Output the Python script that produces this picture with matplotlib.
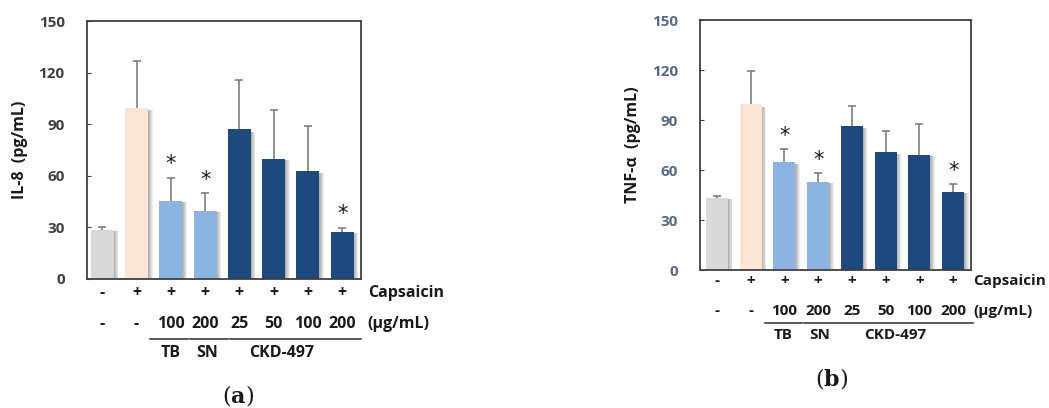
import matplotlib
matplotlib.use("Agg")
import matplotlib.pyplot as plt
from matplotlib.transforms import blended_transform_factory
from matplotlib.lines import Line2D

# ---- data ----
capsaicin = ["-", "+", "+", "+", "+", "+", "+", "+"]
doses = ["-", "-", "100", "200", "25", "50", "100", "200"]
groups = ["TB", "SN", "CKD-497"]
il8_mean = [28.5, 99.5, 45.5, 39.5, 87.0, 70.0, 62.5, 27.3]
il8_err = [1.8, 27.5, 13.5, 10.5, 28.8, 28.3, 26.7, 2.4]
il8_sig = [False, False, True, True, False, False, False, True]
tnf_mean = [43.0, 99.5, 64.6, 53.0, 86.6, 70.6, 69.2, 47.0]
tnf_err = [1.6, 20.0, 8.0, 5.2, 11.8, 12.6, 18.6, 4.4]
tnf_sig = [False, False, True, True, False, False, False, True]
yticks = [0, 30, 60, 90, 120, 150]

bar_colors = ["#d9d9d9", "#fbe5d6", "#8db3e2", "#8db3e2",
              "#1f497d", "#1f497d", "#1f497d", "#1f497d"]

plt.rcParams['font.family'] = ['Open Sans', 'DejaVu Sans']
plt.rcParams['mathtext.fontset'] = 'dejavuserif'

fig = plt.figure(figsize=(10.49, 4.08), dpi=100)

def panel(rect, means, errs, sig, ylabel, xlim, width, tickcol, rows, letter, letter_x,
          lines, grp_x, FS, lab_off):
    ax = fig.add_axes(rect)
    x = list(range(len(means)))
    # soft shadows at the right side of the bars
    for k in range(6):
        ax.bar([xi + width / 2 + 0.01 + k * 0.022 for xi in x], [m * 0.985 for m in means],
               width=0.024, color="#707070", alpha=0.55 - k * 0.085, align="center",
               linewidth=0, zorder=1)
    ax.bar(x, means, width=width, color=bar_colors, zorder=2, linewidth=0)
    tops = [m + e for m, e in zip(means, errs)]
    ax.vlines(x, means, tops, color="#7f7f7f", lw=1.2, zorder=3)
    ax.hlines(tops, [xi - 0.12 for xi in x], [xi + 0.12 for xi in x], color="#7f7f7f",
              lw=1.2, zorder=3)
    for xi, t, s in zip(x, tops, sig):
        if s:
            ax.text(xi, t + 2.0, "*", ha="center", va="bottom", fontsize=15,
                    color="#1a1a1a", family="DejaVu Sans")
    ax.set_xlim(*xlim)
    ax.set_ylim(0, 150)
    ax.set_yticks(yticks)
    ax.set_xticks([])
    ax.tick_params(axis="y", direction="in", length=3, color="#404040", labelsize=11,
                   labelcolor=tickcol, pad=16)
    for lab in ax.get_yticklabels():
        lab.set_fontweight("bold")
    for sp in ax.spines.values():
        sp.set_color("#404040")
        sp.set_linewidth(1.3)
    ax.set_ylabel(ylabel, fontsize=11.5, fontweight="bold", color="#1a1a1a", labelpad=8)
    tr = blended_transform_factory(ax.transData, ax.transAxes)
    y_cap, y_dose, y_line, y_grp, y_letter = rows
    for xi, c, d in zip(x, capsaicin, doses):
        ax.text(xi, y_cap, c, transform=tr, ha="center", va="center", fontsize=FS,
                fontweight="bold", color="#1a1a1a")
        ax.text(xi, y_dose, d, transform=tr, ha="center", va="center", fontsize=FS,
                fontweight="bold", color="#1a1a1a")
    ax.text(xlim[1] + lab_off, y_cap, "Capsaicin", transform=tr, ha="left", va="center",
            fontsize=FS, fontweight="bold", color="#1a1a1a")
    ax.text(xlim[1] + lab_off, y_dose, "(μg/mL)", transform=tr, ha="left", va="center",
            fontsize=FS, fontweight="bold", color="#1a1a1a")
    for (x0, x1), g, gx in zip(lines, groups, grp_x):
        ax.add_line(Line2D([x0, x1], [y_line, y_line], transform=tr, color="#404040",
                           lw=1.2, clip_on=False))
        ax.text(gx, y_grp, g, transform=tr, ha="center", va="center", fontsize=FS,
                fontweight="bold", color="#1a1a1a")
    ax.text(letter_x, y_letter, "($\\mathbf{" + letter + "}$)", transform=tr,
            ha="center", va="center", fontsize=16, family="DejaVu Serif",
            color="#1a1a1a")
    return ax

panel([0.0829, 0.3162, 0.2612, 0.6323], il8_mean, il8_err, il8_sig, "IL-8  (pg/mL)",
      (-0.45, 7.55), 0.67, "#404040",
      (-0.056, -0.175, -0.233, -0.288, -0.45), "a", 3.95,
      [(1.4, 2.5), (2.56, 3.67), (3.73, 7.55)], [2.0, 3.05, 5.24], 11.5, 0.2)

panel([0.6673, 0.3382, 0.2584, 0.6127], tnf_mean, tnf_err, tnf_sig, "TNF-α  (pg/mL)",
      (-0.5, 7.53), 0.65, "#5a6a82",
      (-0.044, -0.164, -0.212, -0.26, -0.432), "b", 3.4,
      [(1.43, 2.53), (2.59, 3.71), (3.74, 7.6)], [1.96, 3.06, 5.29], 11.0, 0.06)

fig.savefig("out.png", dpi=100)
